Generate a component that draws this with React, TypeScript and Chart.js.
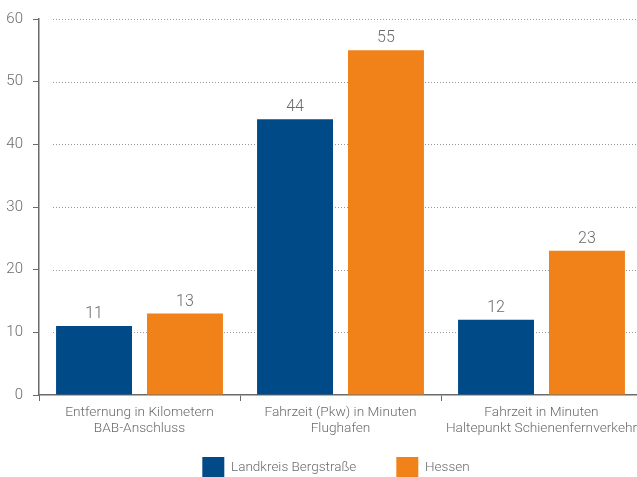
import React, { useEffect, useRef } from "react";
import { Chart, registerables } from "chart.js";

Chart.register(...registerables);

const categories: string[][] = [
  ["Entfernung in Kilometern", "BAB-Anschluss"],
  ["Fahrzeit (Pkw) in Minuten", "Flughafen"],
  ["Fahrzeit in Minuten", "Haltepunkt Schienenfernverkehr"],
];
const seriesNames = ["Landkreis Bergstraße", "Hessen"];
const bergstrasse = [11, 44, 12];
const hessen = [13, 55, 23];
const yTicks = [0, 10, 20, 30, 40, 50, 60];

const BLUE = "#004a87";
const ORANGE = "#f08219";
const GRAY = "#6b6b6b";
const FONT = "Roboto, 'DejaVu Sans', sans-serif";

const W = 667;
const H = 489;

const dottedGrid = {
  id: "dottedGrid",
  beforeDatasetsDraw(chart: any) {
    const { ctx, chartArea, scales } = chart;
    const y = scales.y;
    ctx.save();
    ctx.strokeStyle = "#9a9a9a";
    ctx.lineWidth = 1;
    ctx.setLineDash([1, 2]);
    yTicks.forEach((v) => {
      if (v === 0) return;
      const py = Math.round(y.getPixelForValue(v)) + 0.5;
      ctx.beginPath();
      ctx.moveTo(chartArea.left + 14, py);
      ctx.lineTo(chartArea.right, py);
      ctx.stroke();
    });
    ctx.restore();
  },
};

// widen label clipping areas so the y labels and the two-line x labels are not cut
const labelRoom = {
  id: "labelRoom",
  afterLayout(chart: any) {
    chart.scales.y.left = 0;
    chart.scales.x.bottom = chart.scales.x.top + 50;
  },
};

const valueLabels = {
  id: "valueLabels",
  afterDatasetsDraw(chart: any) {
    const { ctx } = chart;
    ctx.save();
    ctx.font = `300 16px ${FONT}`;
    ctx.fillStyle = GRAY;
    ctx.textAlign = "center";
    ctx.textBaseline = "alphabetic";
    chart.data.datasets.forEach((ds: any, i: number) => {
      const meta = chart.getDatasetMeta(i);
      meta.data.forEach((el: any, j: number) => {
        ctx.fillText(String(ds.data[j]), el.x, el.y - 8);
      });
    });
    ctx.restore();
  },
};

export default function App() {
  const ref = useRef<HTMLCanvasElement | null>(null);
  useEffect(() => {
    if (!ref.current) return;
    const chart = new Chart(ref.current, {
      type: "bar",
      data: {
        labels: categories,
        datasets: [
          {
            label: seriesNames[0],
            data: bergstrasse,
            backgroundColor: BLUE,
            borderWidth: 0,
            categoryPercentage: 0.905,
            barPercentage: 0.835,
          },
          {
            label: seriesNames[1],
            data: hessen,
            backgroundColor: ORANGE,
            borderWidth: 0,
            categoryPercentage: 0.905,
            barPercentage: 0.835,
          },
        ],
      },
      options: {
        animation: false,
        responsive: false,
        devicePixelRatio: 1,
        layout: { padding: { top: 17, right: 25, left: 30, bottom: 0 } },
        plugins: {
          legend: {
            position: "bottom",
            labels: {
              boxWidth: 22,
              boxHeight: 22,
              padding: 40,
              color: GRAY,
              font: { family: FONT, size: 13.5, weight: "300" },
            },
          },
          tooltip: { enabled: false },
        },
        scales: {
          x: {
            afterFit(scale: any) {
              scale.height = 22;
            },
            border: { display: true, color: GRAY, width: 1.5 },
            grid: {
              drawOnChartArea: false,
              drawTicks: true,
              tickLength: 6,
              color: GRAY,
              offset: true,
            },
            ticks: {
              color: GRAY,
              padding: 3,
              maxRotation: 0,
              autoSkip: false,
              font: { family: FONT, size: 13.7, lineHeight: 1.18, weight: "300" },
            },
          },
          y: {
            min: 0,
            max: 60,
            afterFit(scale: any) {
              scale.width = 9;
            },
            border: { display: true, color: GRAY, width: 1.5 },
            grid: {
              drawOnChartArea: false,
              drawTicks: true,
              tickLength: 6,
              color: GRAY,
            },
            ticks: {
              stepSize: 10,
              color: GRAY,
              padding: 10,
              font: { family: FONT, size: 15, weight: "300" },
            },
          },
        },
      },
      plugins: [labelRoom, dottedGrid, valueLabels],
    });
    return () => chart.destroy();
  }, []);

  return (
    <div
      style={{
        position: "fixed",
        left: 0,
        top: 0,
        width: 637,
        height: 477,
        overflow: "hidden",
        background: "#fff",
      }}
    >
      <canvas
        ref={ref}
        width={W}
        height={H}
        style={{ width: W, height: H, display: "block" }}
      />
    </div>
  );
}
